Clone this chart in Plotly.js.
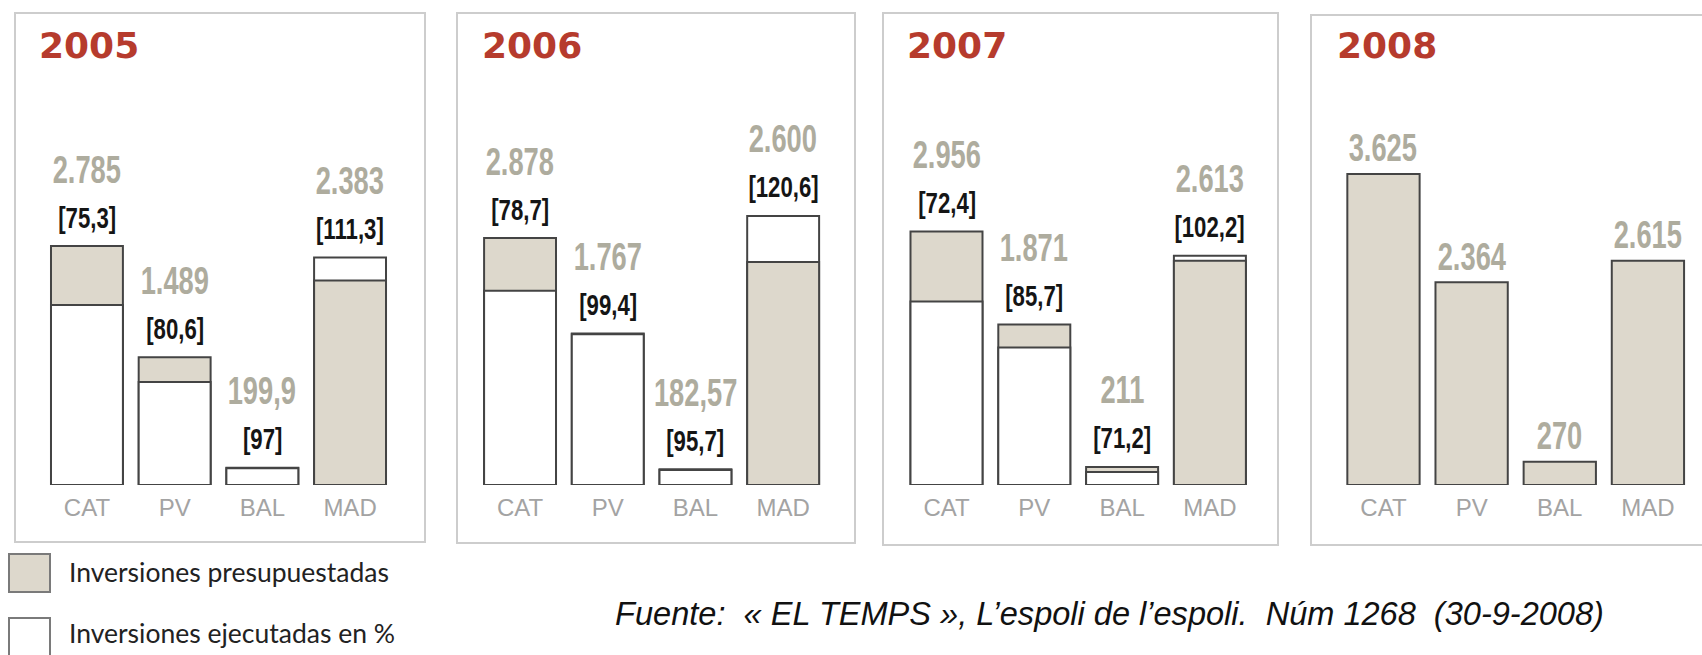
<!DOCTYPE html>
<html>
<head>
<meta charset="utf-8">
<script src="https://cdn.plot.ly/plotly-3.0.1.min.js"></script>
<style>html,body{margin:0;padding:0;background:#fff;}#chart{width:1702px;height:655px;}</style>
</head>
<body>
<div id="chart"></div>
<script>
// ---------- data ----------
const categories = ['CAT', 'PV', 'BAL', 'MAD'];
const years = ['2005', '2006', '2007', '2008'];
const budget2005 = [2785, 1489, 199.9, 2383];
const pct2005 = [75.3, 80.6, 97, 111.3];
const budget2006 = [2878, 1767, 182.57, 2600];
const pct2006 = [78.7, 99.4, 95.7, 120.6];
const budget2007 = [2956, 1871, 211, 2613];
const pct2007 = [72.4, 85.7, 71.2, 102.2];
const budget2008 = [3625, 2364, 270, 2615];
const pct2008 = null;
const legendLabels = ['Inversiones presupuestadas', 'Inversiones ejecutadas en %'];
const sourceText = 'Fuente:\u00a0 « EL TEMPS », L’espoli de l’espoli.\u00a0 Núm 1268\u00a0 (30-9-2008)';

// ---------- styling ----------
const W = 1702, H = 655;
const BEIGE = '#ddd8cc', WHITE = '#ffffff', OUTLINE = '#444444';
const GREYNUM = '#aeac9e', RED = '#b63b2d';
const SANS = '"Liberation Sans", Arial, sans-serif';
const px = x => x / W;
const py = y => 1 - y / H;

const budgets = [budget2005, budget2006, budget2007, budget2008];
const pcts = [pct2005, pct2006, pct2007, pct2008];

const xDomainsPx = [[43.1, 393.9], [476.2, 827], [902.6, 1253.8], [1339.4, 1692]];
const panelsPx = [[15, 13, 425, 542], [457, 13, 855, 543], [883, 13, 1278, 545], [1311, 15, 1730, 545]];
const titleXPx = [37, 480, 905, 1335];
const yBottomPx = 485, yTopPx = 60, pxPerUnit = 0.0858;
const yRange = [0, (yBottomPx - yTopPx) / pxPerUnit];
const yDomain = [py(yBottomPx), py(yTopPx)];

function fmtNum(v) {
  const parts = String(v).split('.');
  let intPart = parts[0];
  if (parts.length === 1 && intPart.length > 3) {
    intPart = intPart.replace(/\B(?=(\d{3})+(?!\d))/g, '.');
  }
  return parts.length > 1 ? intPart + ',' + parts[1] : intPart;
}

const traces = [];
const annotations = [];
const annSquash = [];   // horizontal condensing per annotation (style only)
const shapes = [];
const layout = {
  width: W, height: H,
  margin: {l: 0, r: 0, t: 0, b: 0},
  paper_bgcolor: '#fff', plot_bgcolor: 'rgba(0,0,0,0)',
  barmode: 'overlay',
  showlegend: false,
  font: {family: SANS}
};
function addAnn(a, squash) { annotations.push(a); annSquash.push(squash || null); }

years.forEach((yr, i) => {
  const n = i + 1;
  const xa = 'x' + (n === 1 ? '' : n), ya = 'y' + (n === 1 ? '' : n);
  const B = budgets[i], P = pcts[i];
  const E = P ? B.map((b, k) => b * P[k] / 100) : null;

  if (E) {
    const back = B.map((b, k) => Math.max(b, E[k]));
    const front = B.map((b, k) => Math.min(b, E[k]));
    const backCol = B.map((b, k) => b >= E[k] ? BEIGE : WHITE);
    const frontCol = B.map((b, k) => b >= E[k] ? WHITE : BEIGE);
    traces.push({type: 'bar', x: categories, y: back, xaxis: xa, yaxis: ya, width: 0.82,
      marker: {color: backCol, line: {color: OUTLINE, width: 2}}, hoverinfo: 'skip'});
    traces.push({type: 'bar', x: categories, y: front, xaxis: xa, yaxis: ya, width: 0.82,
      marker: {color: frontCol, line: {color: OUTLINE, width: 2}}, hoverinfo: 'skip'});
    categories.forEach((c, k) => {
      addAnn({xref: xa, yref: ya, x: c, y: back[k], yshift: 29, yanchor: 'middle',
        showarrow: false, text: '[' + fmtNum(P[k]) + ']',
        font: {family: SANS, size: 30, color: '#151515', weight: 'bold'}}, 0.74);
      addAnn({xref: xa, yref: ya, x: c, y: back[k], yshift: 77, yanchor: 'middle',
        showarrow: false, text: fmtNum(B[k]),
        font: {family: SANS, size: 39, color: GREYNUM, weight: 'bold'}}, 0.7);
    });
  } else {
    traces.push({type: 'bar', x: categories, y: B, xaxis: xa, yaxis: ya, width: 0.82,
      marker: {color: BEIGE, line: {color: OUTLINE, width: 2}}, hoverinfo: 'skip'});
    categories.forEach((c, k) => {
      addAnn({xref: xa, yref: ya, x: c, y: B[k], yshift: 26, yanchor: 'middle',
        showarrow: false, text: fmtNum(B[k]),
        font: {family: SANS, size: 39, color: GREYNUM, weight: 'bold'}}, 0.7);
    });
  }

  layout['xaxis' + (n === 1 ? '' : n)] = {
    domain: [px(xDomainsPx[i][0]), px(xDomainsPx[i][1])], anchor: ya,
    type: 'category', range: [-0.5, 3.5], fixedrange: true,
    showgrid: false, zeroline: false, showline: false, ticks: '',
    ticklabelstandoff: 6,
    tickfont: {family: SANS, size: 24, color: '#a3a3a3'}
  };
  layout['yaxis' + (n === 1 ? '' : n)] = {
    domain: yDomain, anchor: xa, range: yRange, visible: false, fixedrange: true
  };

  const p = panelsPx[i];
  shapes.push({type: 'rect', xref: 'paper', yref: 'paper', layer: 'below',
    x0: px(p[0]), x1: px(p[2]), y0: py(p[3]), y1: py(p[1]),
    line: {color: '#cdcdcd', width: 2}, fillcolor: 'rgba(0,0,0,0)'});
  addAnn({xref: 'paper', yref: 'paper', x: px(titleXPx[i]), y: py(46),
    xanchor: 'left', yanchor: 'middle', showarrow: false, text: yr,
    font: {family: '"DejaVu Sans", sans-serif', size: 36, color: RED, weight: 'bold'}});
});

// legend (custom)
shapes.push({type: 'rect', xref: 'paper', yref: 'paper', x0: px(9), x1: px(50), y0: py(592), y1: py(554),
  fillcolor: BEIGE, line: {color: '#7a7a7a', width: 2}});
shapes.push({type: 'rect', xref: 'paper', yref: 'paper', x0: px(9), x1: px(50), y0: py(662), y1: py(618),
  fillcolor: WHITE, line: {color: '#7a7a7a', width: 2}});
addAnn({xref: 'paper', yref: 'paper', x: px(67), y: py(572), xanchor: 'left', yanchor: 'middle',
  showarrow: false, text: legendLabels[0], font: {family: 'Lato, "Open Sans", sans-serif', size: 26.5, color: '#222'}});
addAnn({xref: 'paper', yref: 'paper', x: px(67), y: py(633), xanchor: 'left', yanchor: 'middle',
  showarrow: false, text: legendLabels[1], font: {family: 'Lato, "Open Sans", sans-serif', size: 26.5, color: '#222'}});
addAnn({xref: 'paper', yref: 'paper', x: px(613), y: py(613), xanchor: 'left', yanchor: 'middle',
  showarrow: false, text: sourceText, font: {family: SANS, size: 33, color: '#111', style: 'italic'}}, {fitWidth: 989});

layout.shapes = shapes;
layout.annotations = annotations;

Plotly.newPlot('chart', traces, layout, {displayModeBar: false, staticPlot: true}).then(gd => {
  gd.querySelectorAll('g.annotation').forEach(g => {
    const idx = +g.getAttribute('data-index');
    const sq = annSquash[idx];
    if (!sq) return;
    const t = g.querySelector('text.annotation-text');
    if (!t) return;
    let s = sq, origin = 'center';
    if (typeof sq === 'object') {
      s = sq.fitWidth / t.getBBox().width;
      origin = 'left center';
    }
    t.style.transformBox = 'fill-box';
    t.style.transformOrigin = origin;
    t.style.transform = 'scaleX(' + s + ')';
  });
});
</script>
</body>
</html>
